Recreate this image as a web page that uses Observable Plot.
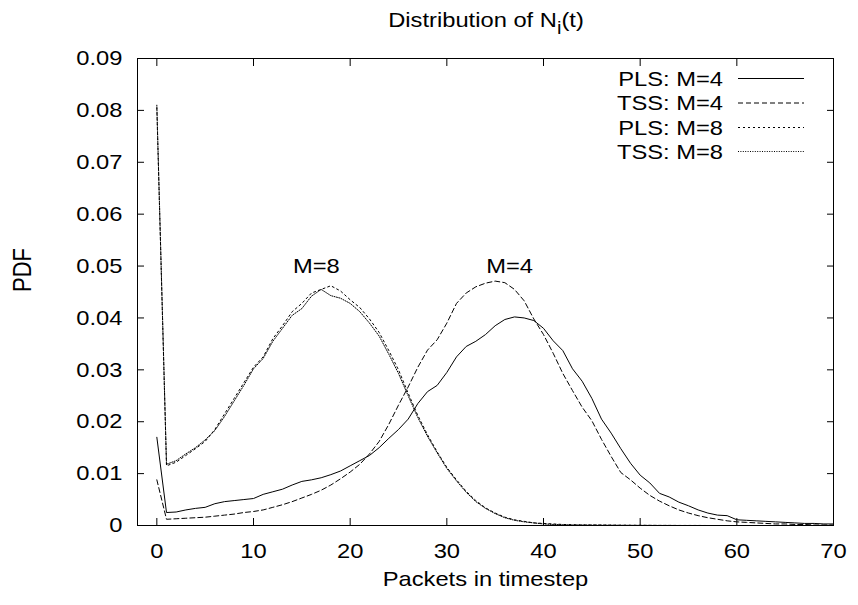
<!DOCTYPE html>
<html>
<head>
<meta charset="utf-8">
<script src="https://cdn.jsdelivr.net/npm/d3@7"></script>
<script src="https://cdn.jsdelivr.net/npm/@observablehq/plot@0.6"></script>
<style>
  html, body { margin: 0; padding: 0; background: #fff; }
  svg text { font-family: "Liberation Sans", Arial, Helvetica, sans-serif; }
</style>
</head>
<body>
<div id="chart"></div>
<script>
// ---------- data ----------
const packets = d3.range(0, 71); // 0..70

const seriesNames = ["PLS: M=4", "TSS: M=4", "PLS: M=8", "TSS: M=8"];

const plsM4 = [0.0170, 0.0025, 0.0026, 0.0030, 0.0033, 0.0035, 0.0042, 0.0046, 0.0048, 0.0050,
  0.0052, 0.0060, 0.0065, 0.0070, 0.0078, 0.0085, 0.0088, 0.0092, 0.0098, 0.0105,
  0.0115, 0.0125, 0.0135, 0.0150, 0.0168, 0.0185, 0.0205, 0.0235, 0.0258, 0.0270,
  0.0295, 0.0325, 0.0345, 0.0355, 0.0368, 0.0385, 0.0397, 0.0402, 0.0400, 0.0395,
  0.0380, 0.0356, 0.0337, 0.0302, 0.0278, 0.0245, 0.0205, 0.0178, 0.0148, 0.0120,
  0.0097, 0.0082, 0.0062, 0.0055, 0.0045, 0.0038, 0.0030, 0.0024, 0.0020, 0.0019,
  0.0011, 0.0010, 0.0009, 0.0008, 0.0007, 0.0006, 0.0005, 0.0004, 0.0004, 0.0003, 0.0003];

const tssM4 = [0.0088, 0.0012, 0.0013, 0.0014, 0.0015, 0.0016, 0.0018, 0.0020, 0.0022, 0.0025,
  0.0027, 0.0030, 0.0035, 0.0040, 0.0046, 0.0053, 0.0060, 0.0068, 0.0078, 0.0090,
  0.0103, 0.0118, 0.0138, 0.0162, 0.0195, 0.0232, 0.0267, 0.0305, 0.0338, 0.0358,
  0.0390, 0.0428, 0.0448, 0.0460, 0.0467, 0.0471, 0.0468, 0.0455, 0.0433, 0.0398,
  0.0368, 0.0332, 0.0293, 0.0260, 0.0228, 0.0202, 0.0166, 0.0133, 0.0102, 0.0088,
  0.0072, 0.0058, 0.0047, 0.0038, 0.0030, 0.0024, 0.0019, 0.0015, 0.0012, 0.0009,
  0.0007, 0.0006, 0.0005, 0.0004, 0.0003, 0.0003, 0.0002, 0.0002, 0.0001, 0.0001, 0.0001];

const plsM8 = [0.0805, 0.0115, 0.0122, 0.0135, 0.0148, 0.0162, 0.0185, 0.0215, 0.0245, 0.0275,
  0.0305, 0.0325, 0.0360, 0.0385, 0.0412, 0.0428, 0.0448, 0.0455, 0.0462, 0.0452,
  0.0435, 0.0420, 0.0398, 0.0372, 0.0337, 0.0300, 0.0255, 0.0212, 0.0175, 0.0142,
  0.0112, 0.0088, 0.0066, 0.0048, 0.0034, 0.0024, 0.0016, 0.0011, 0.0008, 0.0005,
  0.0004, 0.0003, 0.0002, 0.00015, 0.0001, 0.0001, 0.0001, 0.00008, 0.00006, 0.00005,
  0.00004, 0.00003, 0.00002, 0.00002, 0.00001, 0.00001, 0.00001, 0, 0, 0,
  0, 0, 0, 0, 0, 0, 0, 0, 0, 0, 0];

const tssM8 = [0.0810, 0.0118, 0.0125, 0.0138, 0.0150, 0.0165, 0.0183, 0.0210, 0.0240, 0.0270,
  0.0302, 0.0322, 0.0355, 0.0380, 0.0405, 0.0418, 0.0442, 0.0455, 0.0443, 0.0438,
  0.0428, 0.0412, 0.0390, 0.0365, 0.0330, 0.0293, 0.0250, 0.0208, 0.0172, 0.0140,
  0.0110, 0.0086, 0.0064, 0.0046, 0.0033, 0.0023, 0.0015, 0.0010, 0.0007, 0.0005,
  0.0003, 0.0002, 0.00015, 0.0001, 0.0001, 0.00008, 0.00006, 0.00005, 0.00004, 0.00003,
  0.00002, 0.00002, 0.00001, 0.00001, 0, 0, 0, 0, 0, 0,
  0, 0, 0, 0, 0, 0, 0, 0, 0, 0, 0];

const seriesValues = [plsM4, tssM4, plsM8, tssM8];

const xTicks = [0, 10, 20, 30, 40, 50, 60, 70];
const xTickLabels = ["0", "10", "20", "30", "40", "50", "60", "70"];
const yTicks = [0, 0.01, 0.02, 0.03, 0.04, 0.05, 0.06, 0.07, 0.08, 0.09];
const yTickLabels = ["0", "0.01", "0.02", "0.03", "0.04", "0.05", "0.06", "0.07", "0.08", "0.09"];

const annotationLabels = ["M=8", "M=4"];
const annotationX = [16.5, 36.5];
const annotationY = [0.05, 0.05];

const titleMain = "Distribution of N";
const titleSub = "i";
const titleTail = "(t)";
const xLabel = "Packets in timestep";
const yLabel = "PDF";

// ---------- styles ----------
const dashes = [null, "5,3", "2,3", "1,1.4"];
const FS = 21;
const SX = 1.13; // horizontal glyph stretch of reference

// ---------- tables ----------
const rows = seriesNames.map((name, s) =>
  packets.map((p, j) => ({series: name, x: p, y: seriesValues[s][j]})));
const annotations = annotationLabels.map((t, i) => ({label: t, x: annotationX[i], y: annotationY[i]}));

const lineMarks = rows.map((data, s) =>
  Plot.line(data, {x: "x", y: "y", stroke: "#000", strokeWidth: 1,
    strokeDasharray: dashes[s] || undefined}));

const chart = Plot.plot({
  width: 858,
  height: 605,
  marginTop: 58,
  marginBottom: 80,
  marginLeft: 137,
  marginRight: 25,
  style: {fontFamily: "Liberation Sans, Arial, sans-serif", fontSize: FS + "px", background: "#fff", color: "#000", overflow: "visible"},
  x: {domain: [-2, 70], label: null},
  y: {domain: [0, 0.09], label: null},
  marks: [
    Plot.axisX(xTicks, {anchor: "bottom", tickSize: -7, tickPadding: 25, fontSize: FS,
      tickFormat: d => xTickLabels[xTicks.indexOf(d)], label: null}),
    Plot.axisX(xTicks, {anchor: "top", tickSize: -7, tickFormat: () => "", label: null}),
    Plot.axisY(yTicks, {anchor: "left", tickSize: -7, tickPadding: 22, fontSize: FS,
      tickFormat: d => yTickLabels[yTicks.indexOf(d)], label: null}),
    Plot.axisY(yTicks, {anchor: "right", tickSize: -7, tickFormat: () => "", label: null}),
    ...lineMarks,
    Plot.frame({stroke: "#000", strokeWidth: 1}),
    Plot.text(annotations, {x: "x", y: "y", text: "label", fontSize: FS}),
    Plot.text([xLabel], {frameAnchor: "bottom", dy: 60, fontSize: FS}),
    Plot.text([yLabel], {frameAnchor: "left", dx: -115, rotate: -90, fontSize: FS})
  ]
});

document.getElementById("chart").appendChild(chart);

const svg = d3.select(chart);

// stretch glyphs horizontally to match reference
svg.selectAll("text").each(function () {
  const t = d3.select(this);
  const tr = t.attr("transform") || "";
  if (/rotate/.test(tr)) t.attr("transform", tr + " scale(1.05,1.2)");
  else t.attr("transform", tr + ` scale(${SX},1)`);
});

// title with subscript
const title = svg.append("text")
  .attr("transform", `translate(486,27) scale(${SX},1)`)
  .attr("text-anchor", "middle")
  .attr("font-size", FS)
  .attr("fill", "#000");
title.append("tspan").text(titleMain);
title.append("tspan").attr("dy", 7).attr("font-size", 18).text(titleSub);
title.append("tspan").attr("dy", -7).text(titleTail);

// legend
const legendRowsY = [78, 102.5, 127, 151];
const legend = svg.append("g");
seriesNames.forEach((name, i) => {
  legend.append("text")
    .attr("transform", `translate(723,${legendRowsY[i]}) scale(${SX},1)`)
    .attr("text-anchor", "end")
    .attr("dy", "0.36em")
    .attr("font-size", FS)
    .attr("fill", "#000")
    .text(name);
  legend.append("line")
    .attr("x1", 738).attr("x2", 804)
    .attr("y1", legendRowsY[i] + 0.5).attr("y2", legendRowsY[i] + 0.5)
    .attr("stroke", "#000").attr("stroke-width", 1)
    .attr("stroke-dasharray", dashes[i]);
});
</script>
</body>
</html>
